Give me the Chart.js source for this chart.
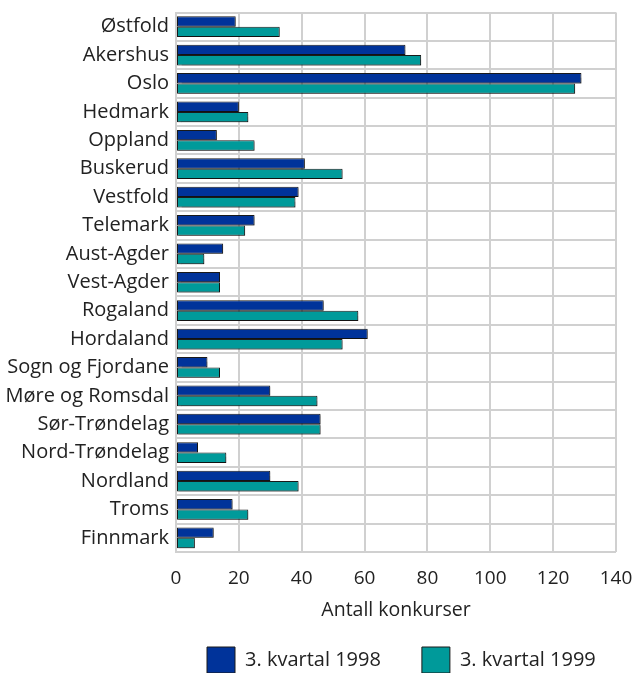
<!DOCTYPE html>
<html>
<head>
<meta charset="utf-8">
<script src="https://cdn.jsdelivr.net/npm/chart.js@4"></script>
<style>
  html, body { margin: 0; padding: 0; background: #fff; }
  #wrap { width: 635px; height: 673px; position: relative; }
</style>
</head>
<body>
<div id="wrap"><canvas id="c"></canvas></div>
<script>
const categories = ["Østfold","Akershus","Oslo","Hedmark","Oppland","Buskerud","Vestfold","Telemark","Aust-Agder","Vest-Agder","Rogaland","Hordaland","Sogn og Fjordane","Møre og Romsdal","Sør-Trøndelag","Nord-Trøndelag","Nordland","Troms","Finnmark"];
const values1998 = [19,73,129,20,13,41,39,25,15,14,47,61,10,30,46,7,30,18,12];
const values1999 = [33,78,127,23,25,53,38,22,9,14,58,53,14,45,46,16,39,23,6];
const seriesNames = ["3. kvartal 1998","3. kvartal 1999"];
const xTicks = [0,20,40,60,80,100,120,140];
const axisTitle = "Antall konkurser";

const FONT = "'Open Sans', 'Noto Sans', sans-serif";
const LEGEND_START_X = 207;

const shadowPlugin = {
  id: 'barShadow',
  beforeDatasetsDraw(chart) {
    const ctx = chart.ctx;
    ctx.save();
    ctx.shadowColor = 'rgba(0,0,0,0.3)';
    ctx.shadowOffsetX = 1.5;
    ctx.shadowOffsetY = 1.5;
    ctx.shadowBlur = 1;
  },
  afterDatasetsDraw(chart) { chart.ctx.restore(); }
};

const legendPlace = {
  id: 'legendPlace',
  beforeLayout(chart) {
    const lg = chart.legend;
    if (lg && !lg._wrapped) {
      const orig = lg.update.bind(lg);
      lg.update = function (maxW, maxH, margins) { return orig(560, maxH, margins); };
      lg._wrapped = true;
    }
  },
  afterLayout(chart) {
    const lg = chart.legend;
    if (!lg || !lg.lineWidths) return;
    const p = lg.options.labels.padding;
    const lw = lg.lineWidths[0];
    lg.right = 720;
    lg.left = 2 * LEGEND_START_X - p - lg.right + lw;
    lg.width = lg.right - lg.left;
  }
};

new Chart(document.getElementById('c'), {
  type: 'bar',
  data: {
    labels: categories,
    datasets: [
      { label: seriesNames[0], data: values1998, backgroundColor: '#00339a', borderColor: '#1a1a1a', borderWidth: 1, borderSkipped: false },
      { label: seriesNames[1], data: values1999, backgroundColor: '#009a9a', borderColor: '#1a1a1a', borderWidth: 1, borderSkipped: false }
    ]
  },
  options: {
    indexAxis: 'y',
    responsive: true,
    maintainAspectRatio: false,
    animation: false,
    layout: { padding: { left: 0, right: 19, top: 12.5, bottom: -10 } },
    datasets: { bar: { categoryPercentage: 0.73, barPercentage: 1.0 } },
    scales: {
      x: {
        min: 0, max: 140,
        afterBuildTicks(scale) { scale.ticks = xTicks.map(v => ({ value: v })); },
        afterFit(scale) { scale.height = 54; scale.paddingLeft = 0; scale.paddingRight = 0; },
        grid: { color: '#d0d0d0', lineWidth: 2, drawTicks: false },
        border: { display: false },
        ticks: { color: '#222', font: { family: FONT, size: 19 }, padding: 15.5 },
        title: { display: true, text: axisTitle, color: '#222', font: { family: FONT, size: 19.5 }, padding: { top: 8, bottom: -16 } }
      },
      y: {
        afterFit(scale) { scale.width = 176; scale.paddingTop = 0; scale.paddingBottom = 0; },
        grid: { color: '#d0d0d0', lineWidth: 2, drawTicks: false, offset: true },
        border: { display: true, color: '#d0d0d0', width: 2 },
        ticks: { color: '#222', font: { family: FONT, size: 20 }, padding: 7, autoSkip: false }
      }
    },
    plugins: {
      legend: {
        position: 'bottom',
        fullSize: false,
        labels: {
          boxWidth: 28, boxHeight: 26, padding: 41,
          color: '#222', font: { family: FONT, size: 20 },
          generateLabels(chart) {
            return chart.data.datasets.map((d, i) => ({
              text: d.label, fillStyle: d.backgroundColor, strokeStyle: '#1a1a1a', lineWidth: 1, datasetIndex: i, hidden: false, fontColor: '#222'
            }));
          }
        }
      },
      tooltip: { enabled: false }
    }
  },
  plugins: [shadowPlugin, legendPlace]
});
</script>
</body>
</html>
